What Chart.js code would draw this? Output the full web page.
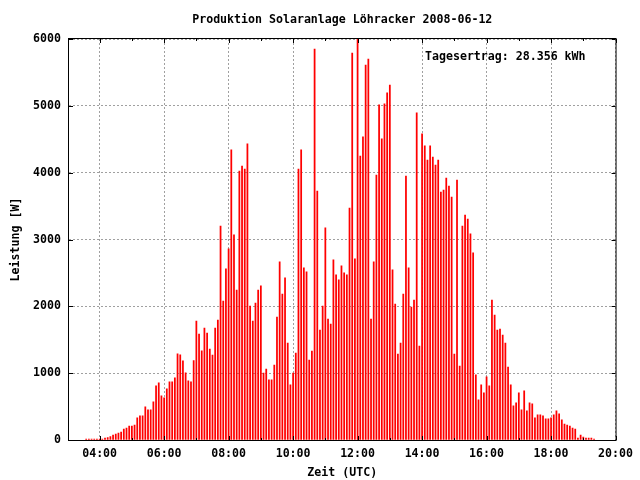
<!DOCTYPE html>
<html lang="de">
<head>
    <meta charset="UTF-8">
    <meta name="viewport" content="width=device-width, initial-scale=1.0">
    <script src="https://cdn.jsdelivr.net/npm/chart.js"></script>
    <title>Produktion Solaranlage Löhracker 2008-06-12</title>
    <style>
        * {
            margin: 0;
            padding: 0;
            box-sizing: border-box;
        }
        body {
            background: #fff;
        }
    </style>
</head>
<body>
    <canvas id="solar" width="640" height="480"></canvas>
<script>
    // Messwerte alle 5 Minuten, erster Wert um 03:35
    const firstSample = '03:35';
    const sampleMinutes = 5;
    const power = [
        15, 15, 15, 15, 15, 15, 15, 30, 35, 50,
        75, 90, 105, 120, 165, 180, 210, 210, 225, 330,
        360, 360, 495, 450, 450, 570, 810, 855, 660, 630,
        765, 870, 870, 930, 1290, 1275, 1185, 1005, 885, 870,
        1190, 1780, 1585, 1335, 1675, 1600, 1360, 1270, 1675, 1795,
        3200, 2080, 2560, 2860, 4340, 3070, 2245, 4025, 4100, 4055,
        4430, 2005, 1780, 2050, 2245, 2305, 1000, 1060, 900, 900,
        1120, 1840, 2665, 2185, 2425, 1450, 825, 1000, 1300, 4055,
        4340, 2575, 2515, 1195, 1330, 5850, 3725, 1645, 2005, 3175,
        1810, 1735, 2695, 2470, 2395, 2605, 2500, 2470, 3470, 5790,
        2710, 6000, 4250, 4535, 5610, 5700, 1810, 2665, 3965, 5015,
        4505, 5030, 5195, 5310, 2545, 2035, 1285, 1450, 2185, 3950,
        2575, 1990, 2095, 4895, 1405, 4580, 4400, 4190, 4400, 4235,
        4115, 4190, 3710, 3740, 3920, 3800, 3635, 1285, 3890, 1105,
        3200, 3365, 3305, 3085, 2800, 975, 600, 825, 705, 945,
        810, 2095, 1870, 1645, 1660, 1570, 1450, 1090, 825, 510,
        555, 705, 450, 735, 435, 555, 540, 330, 375, 375,
        360, 315, 315, 330, 375, 435, 390, 300, 240, 225,
        210, 180, 165, 30, 75, 45, 30, 30, 30, 15
    ];
    const xTickLabels = ['04:00', '06:00', '08:00', '10:00', '12:00', '14:00', '16:00', '18:00', '20:00'];
    const yTickStep = 1000;
    const xStart = '03:03';
    const xEnd = '20:00';
    const chartTitle = 'Produktion Solaranlage Löhracker 2008-06-12';
    const dailyYield = 'Tagesertrag: 28.356 kWh';

    const toMinutes = t => {
        const [h, m] = t.split(':').map(Number);
        return h * 60 + m;
    };
    const fmtTime = v => String(Math.floor(v / 60)).padStart(2, '0') + ':' + String(v % 60).padStart(2, '0');

    const start = toMinutes(firstSample);
    const points = power.map((w, i) => ({ x: start + i * sampleMinutes, y: w }));

    const mono = { family: '"DejaVu Sans Mono", monospace', size: 11.6, weight: 'bold' };
    const monoCss = 'bold 11.6px "DejaVu Sans Mono", monospace';

    // gnuplot-artiger Rahmen mit Ticks nach innen, Titel ueber dem Plot + Tagesertrag
    const framePlugin = {
        id: 'frame',
        afterDatasetsDraw(chart) {
            const { ctx, chartArea: a, scales: { x, y } } = chart;
            ctx.save();
            ctx.strokeStyle = '#000';
            ctx.lineWidth = 1;
            ctx.beginPath();
            for (let m = toMinutes(xTickLabels[0]) - 60; m <= toMinutes(xEnd); m += 60) {
                if (m < x.min) continue;
                const len = xTickLabels.includes(fmtTime(m)) ? 4 : 2;
                const px = Math.round(x.getPixelForValue(m)) + 0.5;
                ctx.moveTo(px, a.bottom);
                ctx.lineTo(px, a.bottom - len);
                ctx.moveTo(px, a.top);
                ctx.lineTo(px, a.top + len);
            }
            y.ticks.forEach(t => {
                const py = Math.round(y.getPixelForValue(t.value)) + 0.5;
                ctx.moveTo(a.left, py);
                ctx.lineTo(a.left + 4, py);
                ctx.moveTo(a.right, py);
                ctx.lineTo(a.right - 4, py);
            });
            ctx.stroke();
            ctx.strokeRect(a.left - 0.5, a.top - 0.5, a.right - a.left + 1, a.bottom - a.top + 1);

            ctx.fillStyle = '#000';
            ctx.font = monoCss;
            ctx.textBaseline = 'alphabetic';
            ctx.textAlign = 'center';
            ctx.fillText(chartTitle, (a.left + a.right) / 2, a.top - 16);
            ctx.textAlign = 'right';
            ctx.fillText(dailyYield, a.right - 30, a.top + 21);
            ctx.restore();
        }
    };

    new Chart(document.getElementById('solar'), {
        type: 'bar',
        data: {
            datasets: [{
                label: 'Leistung',
                data: points,
                backgroundColor: '#ff0000',
                borderWidth: 0,
                barThickness: 1.1
            }]
        },
        options: {
            responsive: false,
            animation: false,
            devicePixelRatio: 1,
            layout: { padding: { left: 0, right: 21, top: 39, bottom: 0 } },
            plugins: {
                legend: { display: false },
                tooltip: { enabled: false },
                title: { display: false }
            },
            scales: {
                x: {
                    type: 'linear',
                    offset: false,
                    min: toMinutes(xStart),
                    max: toMinutes(xEnd),
                    afterBuildTicks: s => {
                        s.ticks = xTickLabels.map(t => ({ value: toMinutes(t) }));
                    },
                    afterFit: s => { s.height = 40; },
                    ticks: {
                        callback: v => fmtTime(v),
                        color: '#000',
                        font: mono,
                        padding: 7,
                        maxRotation: 0,
                        autoSkip: false
                    },
                    grid: { color: '#a0a0a0', drawTicks: false, offset: false },
                    border: { display: false, dash: [2, 2] },
                    title: {
                        display: true,
                        text: 'Zeit (UTC)',
                        color: '#000',
                        font: mono,
                        padding: { top: 2, bottom: 0 }
                    }
                },
                y: {
                    min: 0,
                    max: 6000,
                    afterFit: s => { s.width = 69; },
                    ticks: {
                        stepSize: yTickStep,
                        callback: v => String(v),
                        color: '#000',
                        font: mono,
                        padding: 8
                    },
                    grid: { color: '#a0a0a0', drawTicks: false },
                    border: { display: false, dash: [2, 2] },
                    title: {
                        display: true,
                        text: 'Leistung [W]',
                        color: '#000',
                        font: mono,
                        padding: { top: 9, bottom: 0 }
                    }
                }
            }
        },
        plugins: [framePlugin]
    });
</script>
</body>
</html>
